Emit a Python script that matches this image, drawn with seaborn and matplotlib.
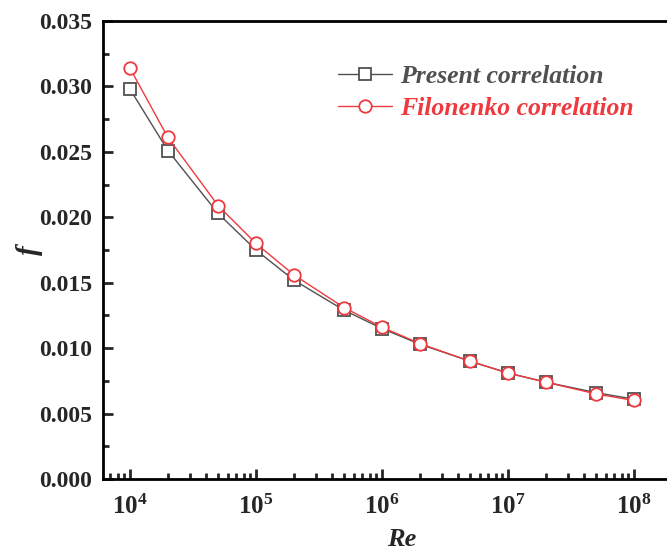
import numpy as np
import pandas as pd
import matplotlib
matplotlib.use("Agg")
import matplotlib.pyplot as plt
import seaborn as sns
from matplotlib.ticker import LogLocator, MultipleLocator, NullFormatter, FormatStrFormatter

re_values = [1e4, 2e4, 5e4, 1e5, 2e5, 5e5, 1e6, 2e6, 5e6, 1e7, 2e7, 5e7, 1e8]
present = [0.0298, 0.0251, 0.0203, 0.0175, 0.0152, 0.0129, 0.0115, 0.0103,
           0.0090, 0.0081, 0.0074, 0.0066, 0.0061]
filonenko = [0.0314, 0.0261, 0.0209, 0.0180, 0.0156, 0.0131, 0.0116, 0.01035,
             0.0090, 0.0081, 0.0074, 0.0065, 0.0060]
series_names = ["Present correlation", "Filonenko correlation"]
y_ticks = [0.000, 0.005, 0.010, 0.015, 0.020, 0.025, 0.030, 0.035]

sns.set_theme(style="ticks")
plt.rcParams['font.family'] = ['Liberation Serif', 'DejaVu Serif']
plt.rcParams['font.weight'] = 'bold'
plt.rcParams['mathtext.fontset'] = 'custom'
plt.rcParams['mathtext.rm'] = 'Liberation Serif:bold'
plt.rcParams['mathtext.it'] = 'Liberation Serif:bold:italic'
plt.rcParams['mathtext.bf'] = 'Liberation Serif:bold'

df = pd.DataFrame({
    "Re": re_values * 2,
    "f": present + filonenko,
    "series": [series_names[0]] * len(re_values) + [series_names[1]] * len(re_values),
})

colors = {series_names[0]: "#505050", series_names[1]: "#EE3A3E"}
markers = {series_names[0]: "s", series_names[1]: "o"}

fig = plt.figure(figsize=(6.67, 5.53), dpi=100)
ax = fig.add_axes([0.1544, 0.1338, 0.8456 + 0.05, 0.9620 - 0.1338])

for name in series_names:
    sub = df[df["series"] == name]
    sns.lineplot(data=sub, x="Re", y="f", ax=ax, color=colors[name], lw=1.0,
                 marker=markers[name], markersize=9 if name == series_names[1] else 8,
                 markerfacecolor="white", markeredgecolor=colors[name],
                 markeredgewidth=1.3, label=name, legend=False)

ax.set_xscale("log")
ax.set_xlim(10 ** 3.786, 10 ** 8.262 * 10 ** (0.05 * 4.476 / 0.8456))
ax.set_ylim(0, 0.035)
ax.set_yticks(y_ticks)
ax.yaxis.set_major_formatter(FormatStrFormatter("%.3f"))
ax.yaxis.set_minor_locator(MultipleLocator(0.0025))
ax.xaxis.set_major_locator(LogLocator(base=10, numticks=20))
ax.xaxis.set_minor_locator(LogLocator(base=10, subs=np.arange(2, 10), numticks=50))
ax.xaxis.set_minor_formatter(NullFormatter())

for s in ["left", "bottom", "top"]:
    ax.spines[s].set_linewidth(2.0)
    ax.spines[s].set_color("black")
ax.spines["right"].set_visible(False)

ax.tick_params(axis="both", which="major", direction="in", length=7, width=2,
               labelsize=17, pad=8, top=False, right=False)
ax.tick_params(axis="x", which="major", pad=11, labelsize=18)
ax.tick_params(axis="both", which="minor", direction="in", length=4, width=2,
               top=False, right=False)
for lab in ax.get_yticklabels() + ax.get_xticklabels():
    lab.set_fontweight("bold")

ax.set_xlabel("Re", fontsize=19, fontweight="bold", fontstyle="italic", labelpad=7)
ax.set_ylabel("f", fontsize=21, fontweight="bold", fontstyle="italic", labelpad=-3)

leg = ax.legend(loc="upper left", bbox_to_anchor=(0.355, 0.955), frameon=False,
                prop={"family": "Liberation Serif", "weight": "bold", "style": "italic", "size": 18.5},
                handlelength=2.1, handletextpad=0.3, labelspacing=0.35)
for text, name in zip(leg.get_texts(), series_names):
    text.set_color(colors[name])

fig.savefig("out.png", dpi=100)
